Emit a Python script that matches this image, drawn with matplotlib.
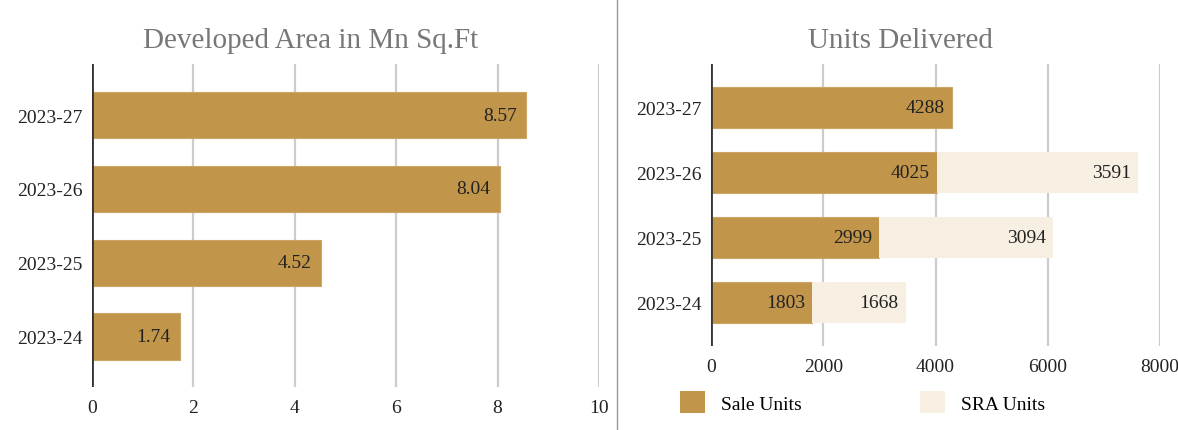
import matplotlib.pyplot as plt
from matplotlib.lines import Line2D
from matplotlib.patches import Patch

plt.rcParams['font.family'] = ['Liberation Serif', 'DejaVu Serif']

periods = ['2023-24', '2023-25', '2023-26', '2023-27']
area = [1.74, 4.52, 8.04, 8.57]
sale_units = [1803, 2999, 4025, 4288]
sra_units = [1668, 3094, 3591, 0]

gold = '#C1954A'
cream = '#F7EFE1'
grid_c = '#CCCCCC'
txt = '#222222'

fig = plt.figure(figsize=(11.78, 4.31), dpi=100)

# left panel
ax1 = fig.add_axes([92/1178, 1 - 388/431, 507/1178, 323/431])
y = range(len(periods))
bars = ax1.barh(y, area, height=0.63, color=gold, edgecolor='#CDA566', linewidth=0.8, zorder=3)
for b, v in zip(bars, area):
    ax1.text(b.get_width() - 0.19, b.get_y() + b.get_height()/2, f'{v:.2f}',
             ha='right', va='center', fontsize=14, color=txt, zorder=4)
ax1.set_xlim(0, 10)
ax1.set_ylim(-0.68, 3.69)
ax1.set_xticks([0, 2, 4, 6, 8, 10])
ax1.set_yticks(list(y))
ax1.set_yticklabels(periods)
fig.text(311/1178, 1 - 38/431, 'Developed Area in Mn Sq.Ft', fontsize=21,
         color='#777777', ha='center', va='center_baseline')

# right panel
ax2 = fig.add_axes([711/1178, 1 - 347/431, 449/1178, 282/431])
b1 = ax2.barh(y, sale_units, height=0.63, color=gold, edgecolor='#CDA566', linewidth=0.8, zorder=3)
b2 = ax2.barh(y, sra_units, left=sale_units, height=0.63, color=cream, zorder=3)
for b, v in zip(b1, sale_units):
    ax2.text(b.get_width() - 130, b.get_y() + b.get_height()/2, str(v),
             ha='right', va='center', fontsize=14, color=txt, zorder=4)
for b, v, s in zip(b2, sra_units, sale_units):
    if v:
        ax2.text(s + v - 130, b.get_y() + b.get_height()/2, str(v),
                 ha='right', va='center', fontsize=14, color=txt, zorder=4)
ax2.set_xlim(0, 8000)
ax2.set_ylim(-0.66, 3.66)
ax2.set_xticks([0, 2000, 4000, 6000, 8000])
ax2.set_yticks(list(y))
ax2.set_yticklabels(periods)
fig.text(900/1178, 1 - 38/431, 'Units Delivered', fontsize=21,
         color='#777777', ha='center', va='center_baseline')

for ax in (ax1, ax2):
    for s in ax.spines.values():
        s.set_visible(False)
    ax.grid(axis='x', color=grid_c, linewidth=1.6, zorder=0)
    ax.axvline(0, color='#333333', linewidth=2, zorder=5)
    ax.tick_params(length=0, labelsize=14, colors=txt)
ax1.tick_params(axis='x', pad=9)
ax1.tick_params(axis='y', pad=7)
ax2.tick_params(axis='x', pad=9)
ax2.tick_params(axis='y', pad=7)

handles = [Patch(facecolor=gold, label='Sale Units'),
           Patch(facecolor=cream, label='SRA Units')]
fig.legend(handles=handles, loc='center left', bbox_to_anchor=(680/1178, 1 - 403/431),
           ncol=2, frameon=False, fontsize=14, handlelength=1.29, handleheight=1.29,
           handletextpad=0.82, columnspacing=6.1, borderpad=0, borderaxespad=0)

fig.add_artist(Line2D([617/1178, 617/1178], [0, 1], transform=fig.transFigure,
                      color='#999999', linewidth=1))

fig.savefig('out.png', dpi=100)
